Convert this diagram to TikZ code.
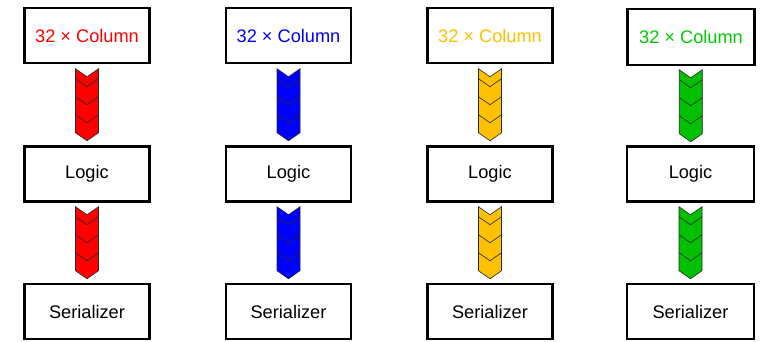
\documentclass[tikz,border=0pt]{standalone}
\usepackage{fontspec}
\setmainfont{Liberation Sans}
\usetikzlibrary{calc}

\definecolor{laneRed}{RGB}{255,0,0}
\definecolor{laneBlue}{RGB}{0,0,255}
\definecolor{laneYellow}{RGB}{255,192,0}
\definecolor{laneGreen}{RGB}{0,192,0}
\definecolor{laneGreenText}{RGB}{0,204,0}
\definecolor{chevEdge}{RGB}{40,40,40}

\tikzset{
  blockbox/.style={draw=black, line width=2.2pt, fill=white,
    minimum width=125pt, minimum height=55pt, inner sep=0pt,
    font=\fontsize{18.2}{22}\selectfont},
  % a stack of four down-pointing chevrons, centred on the pic position
  pics/chevarrow/.style={code={
    \filldraw[fill=#1, draw=chevEdge, line width=0.6pt, line join=miter]
      (-11.5,-36) -- (0,-28) -- (11.5,-36) -- (11.5,28) -- (0,36) -- (-11.5,28) -- cycle;
    \foreach \t in {-18,0,18}
      \draw[chevEdge, line width=0.6pt] (-11.5,\t-8) -- (0,\t) -- (11.5,\t-8);
  }}
}

\begin{document}
\begin{tikzpicture}[x=1pt,y=-1pt]
  \useasboundingbox (0,0) rectangle (769,341);

  % lane 1
  \node[blockbox, text=laneRed] (col1) at (87,35.5) {32 × Column};
  \node[blockbox] (log1) at (87,174) {Logic};
  \node[blockbox] (ser1) at (87,311.5) {Serializer};

  % lane 2
  \node[blockbox, text=laneBlue] (col2) at (288.5,35.5) {32 × Column};
  \node[blockbox] (log2) at (288.5,174) {Logic};
  \node[blockbox] (ser2) at (288.5,311.5) {Serializer};

  % lane 3
  \node[blockbox, text=laneYellow] (col3) at (490,35.5) {32 × Column};
  \node[blockbox] (log3) at (490,174) {Logic};
  \node[blockbox] (ser3) at (490,311.5) {Serializer};

  % lane 4
  \node[blockbox, text=laneGreenText, minimum width=127pt, minimum height=56pt] (col4) at (691,37) {32 × Column};
  \node[blockbox, minimum width=127pt] (log4) at (690.5,174) {Logic};
  \node[blockbox, minimum width=127pt] (ser4) at (690.5,311.5) {Serializer};

  % chevron connectors between the stages
  \pic at ($(col1.south)!0.5!(log1.north)$) {chevarrow=laneRed};
  \pic at ($(log1.south)!0.5!(ser1.north)$) {chevarrow=laneRed};
  \pic at ($(col2.south)!0.5!(log2.north)$) {chevarrow=laneBlue};
  \pic at ($(log2.south)!0.5!(ser2.north)$) {chevarrow=laneBlue};
  \pic at ($(col3.south)!0.5!(log3.north)$) {chevarrow=laneYellow};
  \pic at ($(log3.south)!0.5!(ser3.north)$) {chevarrow=laneYellow};
  \pic at ($(col4.south)!0.5!(log4.north)$) {chevarrow=laneGreen};
  \pic at ($(log4.south)!0.5!(ser4.north)$) {chevarrow=laneGreen};
\end{tikzpicture}
\end{document}
